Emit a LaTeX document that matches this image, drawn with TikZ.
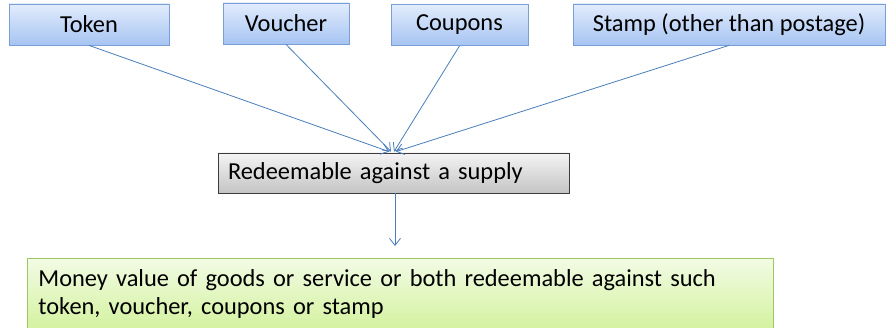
\documentclass[tikz,border=0pt]{standalone}
\usepackage{fontspec}
\setmainfont{Carlito}
\usetikzlibrary{arrows.meta}

\definecolor{blueTop}{HTML}{E2ECFC}
\definecolor{blueBot}{HTML}{A6C4F2}
\definecolor{blueEdge}{HTML}{7A9ED6}
\definecolor{grayTop}{HTML}{F4F4F4}
\definecolor{grayBot}{HTML}{C4C4C4}
\definecolor{grayEdge}{HTML}{3C3C3C}
\definecolor{greenTop}{HTML}{F2FBE4}
\definecolor{greenBot}{HTML}{D3F29E}
\definecolor{greenEdge}{HTML}{9DC766}
\definecolor{linkBlue}{HTML}{4A7EBB}

\tikzset{
  x=1pt, y=-1pt,
  every node/.style={font=\fontsize{24.4}{28}\selectfont, text=black},
  sourcebox/.style={draw=blueEdge, line width=0.8pt, top color=blueTop,
    bottom color=blueBot, minimum height=41pt, inner sep=0pt},
  middlebox/.style={draw=grayEdge, line width=0.8pt, top color=grayTop,
    bottom color=grayBot, minimum height=40pt, minimum width=351pt,
    text width=331pt, align=left, inner xsep=10pt, inner ysep=0pt},
  resultbox/.style={draw=greenEdge, line width=0.8pt, top color=greenTop,
    bottom color=greenBot, minimum height=72pt, text width=724pt,
    align=left, inner xsep=11pt, inner ysep=4pt},
  link/.style={draw=linkBlue, line width=0.8pt,
    -{Straight Barb[length=7pt,width=11pt,line width=0.8pt]}},
}

\begin{document}
\begin{tikzpicture}
  \useasboundingbox[fill=white] (0,0) rectangle (890,328);

  % four kinds of instrument
  \node[sourcebox, minimum width=160pt] (token)   at (89,24.5)  {Token};
  \node[sourcebox, minimum width=126pt] (voucher) at (286,23.5) {Voucher};
  \node[sourcebox, minimum width=137pt] (coupons) at (459.5,25) {Coupons};
  \node[sourcebox, minimum width=312pt] (stamp)   at (729,24.5) {Stamp (other than postage)};

  % common condition
  \node[middlebox] (redeem) at (393.5,173) {Redeemable against a supply};

  % resulting value
  \node[resultbox, anchor=north west] (value) at (27,258)
    {Money value of goods or service or both redeemable against such\\
     token, voucher, coupons or stamp};

  \coordinate (drop) at (395,246);

  \draw[link] (token.south)   -- ([xshift=-4.5pt, yshift=1pt]redeem.north);
  \draw[link] (voucher.south) -- ([xshift=-2.5pt, yshift=1pt]redeem.north);
  \draw[link] (coupons.south) -- ([xshift=0.5pt, yshift=1pt]redeem.north);
  \draw[link] (stamp.south)   -- ([xshift=2.5pt, yshift=1pt]redeem.north);
  \draw[link] ([xshift=1.5pt]redeem.south) -- (drop);
\end{tikzpicture}
\end{document}
